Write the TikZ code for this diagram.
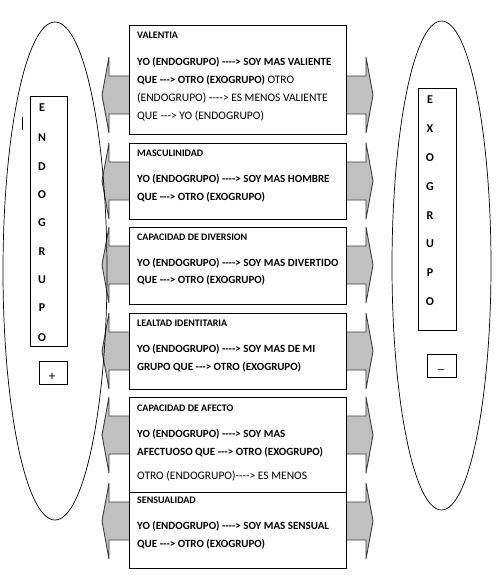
\documentclass[tikz,border=0pt]{standalone}
\usepackage{fontspec}
\newfontfamily\cf{Carlito}
\definecolor{arrowfill}{RGB}{192,192,192}
\definecolor{arrowline}{RGB}{64,64,64}
\tikzset{
  arr/.style={draw=arrowline, fill=arrowfill, line width=0.9pt, line join=miter},
  box/.style={draw=black, fill=white, line width=0.9pt, anchor=north west, inner sep=0pt},
  sidebox/.style={draw=black, line width=0.8pt, anchor=north west, inner sep=0pt},
  oval/.style={draw=black, line width=0.7pt},
  hd/.style={anchor=west, inner sep=0pt, font=\cf\bfseries\fontsize{10}{12}\selectfont},
  bd/.style={anchor=west, inner sep=0pt, font=\cf\bfseries\fontsize{11}{13}\selectfont},
  rg/.style={anchor=west, inner sep=0pt, font=\cf\fontsize{11.5}{13}\selectfont},
  letter/.style={inner sep=0pt, font=\cf\bfseries\fontsize{12}{14}\selectfont},
  sign/.style={inner sep=0pt, font=\cf\fontsize{13}{15}\selectfont},
}
\newcommand\dblarrowat[1]{%
  \draw[arr] (102,#1) -- (109,{#1-38}) -- (109,{#1-19}) -- (366,{#1-19}) -- (366,{#1-38})
    -- (373,#1) -- (366,{#1+38}) -- (366,{#1+19}) -- (109,{#1+19}) -- (109,{#1+38}) -- cycle;}
\begin{document}
\begin{tikzpicture}[x=1pt,y=-1pt]
\useasboundingbox[fill=white] (0,0) rectangle (501,575);

% double arrows behind the boxes
\dblarrowat{95}
\dblarrowat{181}
\dblarrowat{265}
\dblarrowat{351}
\dblarrowat{435}
\dblarrowat{521}

% ellipses
\draw[oval] (55,271) ellipse [x radius=52, y radius=249];
\draw[oval] (441.5,265.5) ellipse [x radius=49.5, y radius=244.5];

% central boxes
\node[box, minimum width=217pt, minimum height=109pt] (b1) at (129,25) {};
\node[box, minimum width=217pt, minimum height=76pt] (b2) at (129,143) {};
\node[box, minimum width=217pt, minimum height=77pt] (b3) at (129,227) {};
\node[box, minimum width=217pt, minimum height=76pt] (b4) at (129,313) {};
\node[box, minimum width=217pt, minimum height=95pt] (b5) at (129,397) {};

% texts box 1
\node[hd] (t1h) at (137,35) {VALENTIA};
\node[bd] (t1a) at (137,62) {YO (ENDOGRUPO) ----> SOY MAS VALIENTE};
\node[bd] (t1b) at (137,80) {QUE ---> OTRO (EXOGRUPO) {\mdseries\fontsize{11.5}{13}\selectfont OTRO}};
\node[rg] (t1c) at (137,98) {(ENDOGRUPO) ----> ES MENOS VALIENTE};
\node[rg] (t1d) at (137,116) {QUE ---> YO (ENDOGRUPO)};

% box 2
\node[hd] (t2h) at (137,153) {MASCULINIDAD};
\node[bd] (t2a) at (137,179) {YO (ENDOGRUPO) ----> SOY MAS HOMBRE};
\node[bd] (t2b) at (137,197) {QUE ---> OTRO (EXOGRUPO)};

% box 3
\node[hd] (t3h) at (137,237) {CAPACIDAD DE DIVERSION};
\node[bd] (t3a) at (137,263) {YO (ENDOGRUPO) ----> SOY MAS DIVERTIDO};
\node[bd] (t3b) at (137,280) {QUE ---> OTRO (EXOGRUPO)};

% box 4
\node[hd] (t4h) at (137,323) {LEALTAD IDENTITARIA};
\node[bd] (t4a) at (137,349) {YO (ENDOGRUPO) ----> SOY MAS DE MI};
\node[bd] (t4b) at (137,367) {GRUPO QUE ---> OTRO (EXOGRUPO)};

% box 5
\node[hd] (t5h) at (137,408) {CAPACIDAD DE AFECTO};
\node[bd] (t5a) at (137,434) {YO (ENDOGRUPO) ----> SOY MAS};
\node[bd] (t5b) at (137,452) {AFECTUOSO QUE ---> OTRO (EXOGRUPO)};
\node[rg] (t5c) at (137,476) {OTRO (ENDOGRUPO)----> ES MENOS};

% box 6 (on top of box 5)
\node[box, minimum width=217pt, minimum height=76pt] (b6) at (129,492) {};
\node[hd] (t6h) at (137,500) {SENSUALIDAD};
\node[bd] (t6a) at (137,526) {YO (ENDOGRUPO) ----> SOY MAS SENSUAL};
\node[bd] (t6b) at (137,544) {QUE ---> OTRO (EXOGRUPO)};

% left side: ENDOGRUPO
\node[sidebox, minimum width=37pt, minimum height=250pt] (lbox) at (30,96) {};
\foreach \ch/\yy [count=\i] in {E/108,N/138,D/167,O/195,G/223,R/252,U/280,P/308,O/338}
  \node[letter] (l\i) at (42,\yy) {\ch};
\node[sidebox, minimum width=28pt, minimum height=23pt] (plusbox) at (39,361) {};
\node[sign] (plus) at (52,377) {+};
\draw[line width=0.8pt] (22,117) -- (22,130);

% right side: EXOGRUPO
\node[sidebox, minimum width=38pt, minimum height=242pt] (rbox) at (418,88) {};
\foreach \ch/\yy [count=\i] in {E/100,X/129,O/158,G/187,R/216,U/244,P/273,O/302}
  \node[letter] (r\i) at (430,\yy) {\ch};
\node[sidebox, minimum width=29pt, minimum height=23pt] (minusbox) at (427,354) {};
\node[sign, anchor=base] (minus) at (441,368) {\_};
\end{tikzpicture}
\end{document}
